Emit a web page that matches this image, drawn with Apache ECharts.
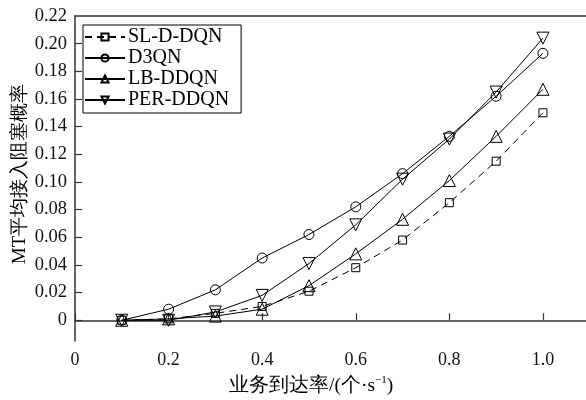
<!DOCTYPE html>
<html>
<head>
<meta charset="utf-8">
<script src="https://cdn.jsdelivr.net/npm/echarts@6/dist/echarts.min.js"></script>
<style>html,body{margin:0;padding:0;background:#fff;}#c{width:586px;height:400px;}</style>
</head>
<body>
<div id="c"></div>
<script>
const xValues = [0.1, 0.2, 0.3, 0.4, 0.5, 0.6, 0.7, 0.8, 0.9, 1.0];
const slDdqn  = [0, 0.001, 0.005, 0.010, 0.021, 0.038, 0.058, 0.085, 0.115, 0.150];
const d3qn    = [0, 0.008, 0.022, 0.045, 0.062, 0.082, 0.106, 0.133, 0.162, 0.193];
const lbDdqn  = [0, 0.001, 0.003, 0.008, 0.025, 0.048, 0.073, 0.101, 0.133, 0.167];
const perDdqn = [0, 0, 0.006, 0.018, 0.041, 0.069, 0.102, 0.131, 0.165, 0.204];
const seriesNames = ['SL-D-DQN', 'D3QN', 'LB-DDQN', 'PER-DDQN'];
const xTicks = [0, 0.2, 0.4, 0.6, 0.8, 1.0];
const yTicks = [0, 0.02, 0.04, 0.06, 0.08, 0.10, 0.12, 0.14, 0.16, 0.18, 0.20, 0.22];
const xAxisName = '业务到达率/(个·s';
const xAxisSup = '−1';
const yAxisName = 'MT平均接入阻塞概率';

const FONT = 'Liberation Serif';
const pair = arr => xValues.map((x, i) => [x, arr[i]]);
const mk = (name, data, symbol, size, rotate, dashed) => ({
  name, type: 'line', data: pair(data), symbol, symbolSize: size, symbolRotate: rotate || 0,
  lineStyle: { color: '#000', width: 1, type: dashed ? [7, 5] : 'solid' },
  itemStyle: { color: 'rgba(0,0,0,0)', borderColor: '#000', borderWidth: 1 },
  emphasis: { disabled: true }, z: 3
});

const chart = echarts.init(document.getElementById('c'), null, { renderer: 'canvas' });
chart.setOption({
  animation: false,
  backgroundColor: '#fff',
  grid: { left: 75, top: 16, right: 0, bottom: 59 },
  legend: {
    left: 83, top: 25, orient: 'vertical',
    data: seriesNames,
    itemWidth: 40, itemHeight: 9, itemGap: 1,
    padding: [2, 12, 3, 1],
    borderColor: '#000', borderWidth: 1,
    textStyle: { fontFamily: FONT, fontSize: 20, color: '#000', padding: [0, 0, 0, -2] }
  },
  xAxis: [{
    type: 'value', min: 0, max: 1.092,
    axisLine: { lineStyle: { color: '#333', width: 1.5 } },
    axisTick: { inside: true, length: 7, customValues: xTicks, lineStyle: { color: '#333', width: 1.2 } },
    axisLabel: { customValues: xTicks, margin: 10, fontFamily: FONT, fontSize: 18, color: '#111',
      formatter: v => v === 0 ? '0' : v.toFixed(1) },
    splitLine: { show: false }
  }, {
    type: 'value', position: 'top', min: 0, max: 1.092,
    axisLine: { show: true, lineStyle: { color: '#333', width: 1.5 } },
    axisTick: { show: false }, axisLabel: { show: false }, splitLine: { show: false }
  }],
  yAxis: {
    type: 'value', min: -0.015, max: 0.22,
    axisLine: { show: true, lineStyle: { color: '#333', width: 1.5 } },
    axisTick: { show: true, inside: true, length: 7, customValues: yTicks.slice(0, 11), lineStyle: { color: '#333', width: 1.2 } },
    axisLabel: { customValues: yTicks, margin: 8, fontFamily: FONT, fontSize: 18.5, color: '#111',
      formatter: v => v === 0 ? '0' : v.toFixed(2) },
    splitLine: { show: false }
  },
  series: [
    mk(seriesNames[0], slDdqn, 'rect', 8, 0, true),
    mk(seriesNames[1], d3qn, 'circle', 10, 0, false),
    mk(seriesNames[2], lbDdqn, 'triangle', 12, 0, false),
    mk(seriesNames[3], perDdqn, 'triangle', 12, 180, false)
  ],
  graphic: [
    { type: 'text', left: 229, top: 375, style: {
      text: '{a|' + xAxisName + '}{s|' + xAxisSup + '}{a|)}',
      rich: { a: { fontFamily: FONT, fontSize: 19.5, fill: '#000', verticalAlign: 'bottom' },
              s: { fontFamily: FONT, fontSize: 11, fill: '#000', verticalAlign: 'top', padding: [0, 0, 10, 0] } } } },
    { type: 'text', x: 20, y: 174, rotation: Math.PI / 2, style: {
      text: yAxisName, fontFamily: FONT, fontSize: 19, fill: '#000', align: 'center', verticalAlign: 'middle' } }
  ]
});
</script>
</body>
</html>
